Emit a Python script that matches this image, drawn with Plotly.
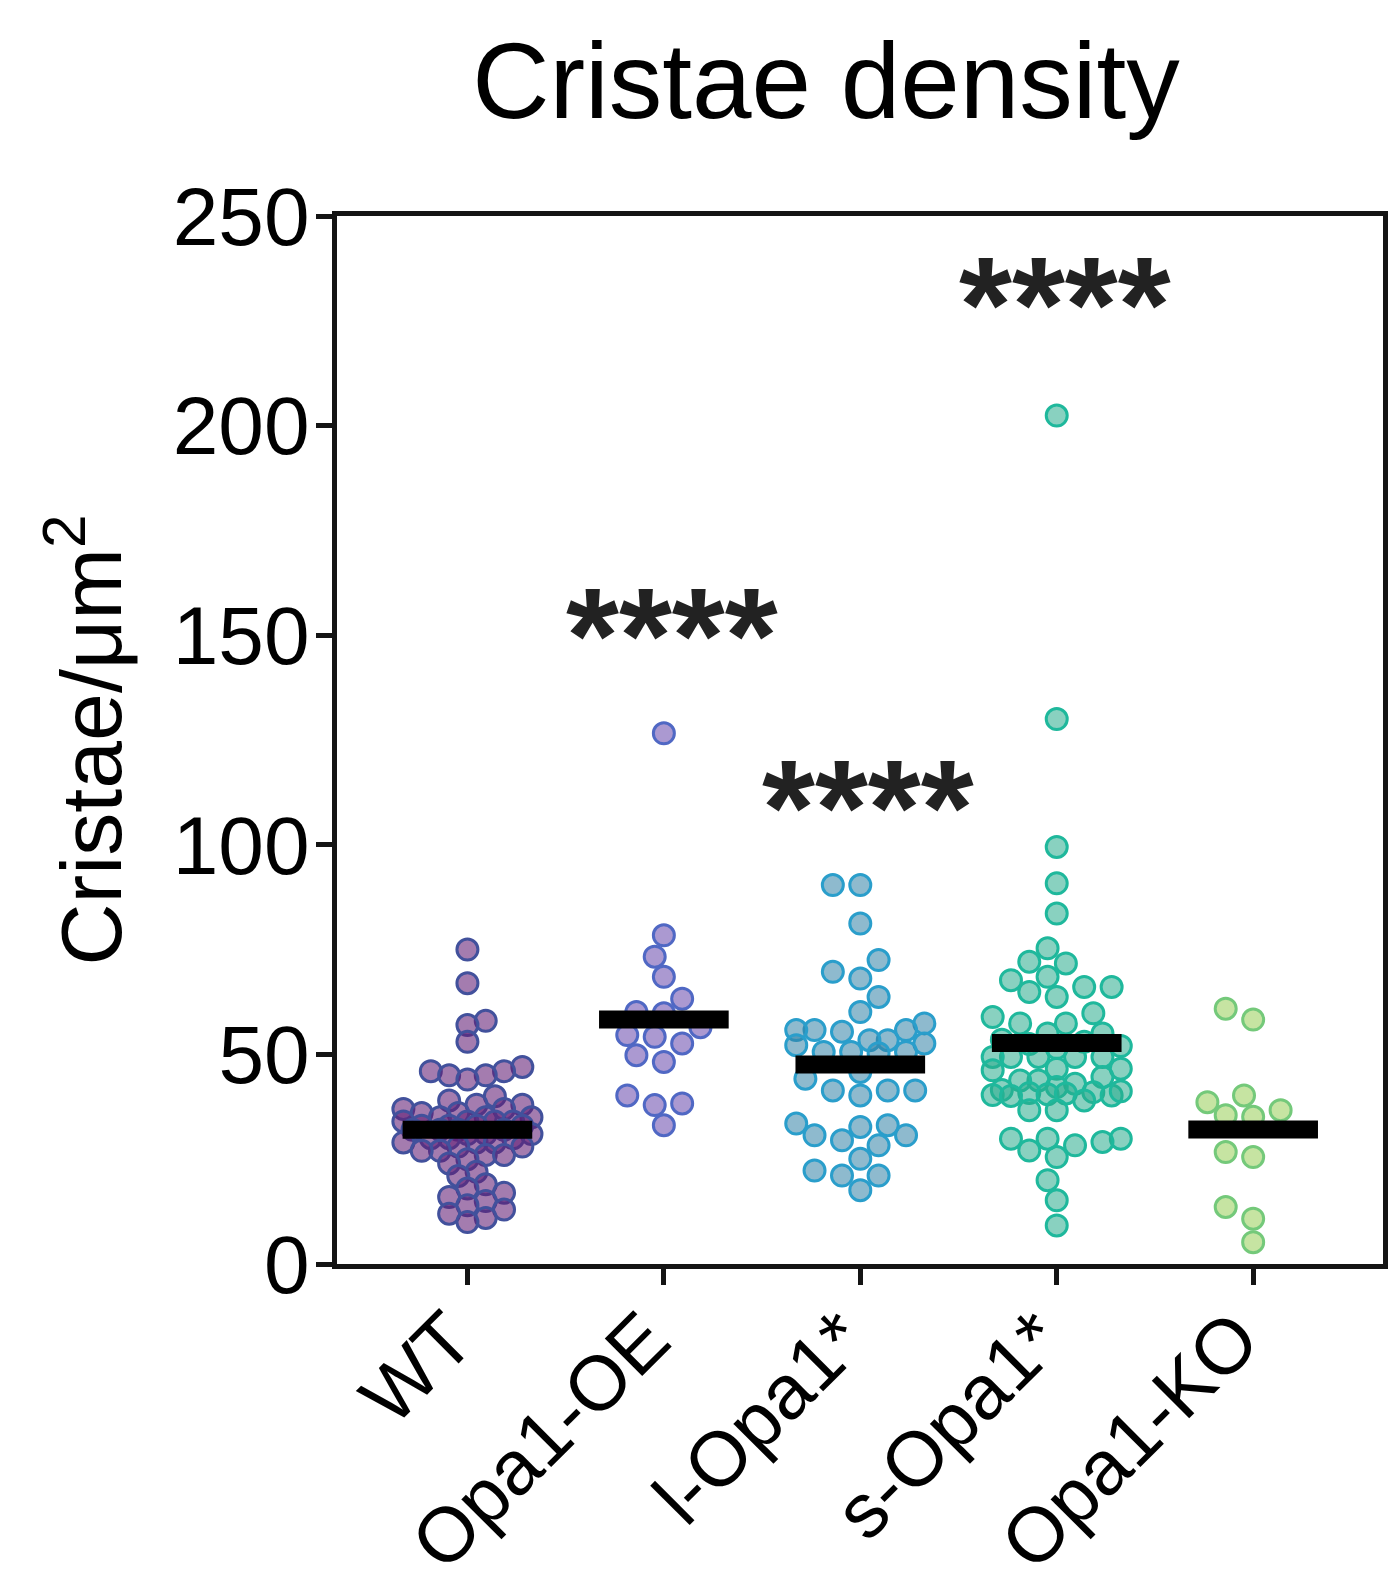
import plotly.graph_objects as go

# ---------------- data ----------------
categories = ["WT", "Opa1-OE", "l-Opa1*", "s-Opa1*", "Opa1-KO"]

wt = [75, 67, 58, 57, 53, 47, 46, 46, 45, 45, 44,
      40, 39, 38, 38, 37, 37, 36, 36, 35, 35, 35, 34, 34, 34, 34, 33, 33, 33, 33,
      32, 32, 32, 32, 31, 31, 31, 30, 30, 30, 29, 29, 29, 28, 28, 27, 27, 26, 26,
      25, 24,
      22, 21, 19, 18, 17, 16, 15, 14, 13, 12, 11, 10]

opa1_oe = [126.6, 78.4, 73.3, 68.5, 63.3, 59.8, 60.1, 56.5, 54.2, 54.6, 52.6,
           49.8, 48.2, 40.2, 38.3, 37.9, 33.1]

l_opa1 = [90.4, 90.4, 81.2, 72.5, 69.7, 68.1, 63.7, 60.1, 57.4, 55.4, 55.8, 55.8,
          55.8, 53.4, 53.4, 52.6, 52.2, 50.6, 50.6, 50.6, 50.3, 45.8, 44.2, 41.4,
          41.4, 41.4, 40.2, 33.1, 32.7, 33.5, 30.7, 30.7, 29.5, 28.3, 25.1, 22.3,
          21.1, 21.1, 17.6]

s_opa1 = [202.4, 130.0, 99.5, 90.8, 83.6, 75.3, 72.1, 71.7, 68.5, 67.7, 66.1, 66.1,
          64.9, 63.7, 59.8, 58.9, 57.4, 57.4, 55.0, 55.0, 53.5, 53.0, 52.5, 52.0,
          51.5, 49.4, 49.4, 49.4, 49.4, 49.4, 46.6, 46.6, 46.2, 44.6, 43.8, 43.8,
          43.0, 42.2, 41.5, 41.0, 40.8, 40.5, 40.3, 40.7, 40.2, 41.2, 40.1, 39.0,
          36.7, 36.7, 29.9, 29.9, 29.9, 29.1, 28.3, 27.1, 25.5, 20.0, 15.2, 9.2]

opa1_ko = [60.9, 58.3, 40.2, 38.6, 36.7, 35.5, 35.1, 26.7, 25.5, 13.6, 10.8, 5.2]

group_means = [32.0, 58.3, 47.6, 52.7, 32.1]
significance = ["", "****", "****", "****", ""]
y_tick_values = [0, 50, 100, 150, 200, 250]

groups = [wt, opa1_oe, l_opa1, s_opa1, opa1_ko]

# ---------------- styling / layout constants ----------------
W, H = 1391, 1585
ML, MR, MT, MB = 337, 8, 216, 321
X_RANGE = [-0.664, 4.661]
Y_RANGE = [0, 250]
FONT = "Liberation Sans, Arial, Helvetica, sans-serif"
AXIS_COLOR = "#141414"
STAR_LEVELS = {1: 150, 2: 109, 3: 229}   # annotation heights (axis units)

fills = ["rgba(98,30,118,0.58)", "rgba(110,80,175,0.58)", "rgba(50,130,165,0.55)",
         "rgba(40,172,140,0.55)", "rgba(160,210,100,0.6)"]
edges = ["#42519c", "#5068c4", "#2a9ecb", "#1fb89c", "#74c97a"]
packing = [15.5, 22.0, 22.0, 21.0, 22.0]   # collision distance (px) per group

MARKER_SIZE = 21
MARKER_LINE = 3

plot_w = W - ML - MR
plot_h = H - MT - MB
px_per_x = plot_w / (X_RANGE[1] - X_RANGE[0])
px_per_y = plot_h / (Y_RANGE[1] - Y_RANGE[0])


def swarm_offsets(values, diam=22.0, step=9.15, max_steps=7):
    """Greedy beeswarm on a grid of half-diameter steps (pixel space)."""
    placed = []
    offs = [0.0] * len(values)
    order = sorted(range(len(values)), key=lambda i: values[i])
    cands = [0]
    for k in range(1, max_steps + 1):
        cands += [-k, k] if k % 2 else [k, -k]
    for i in order:
        y = values[i] * px_per_y
        chosen = None
        for c in cands:
            x = c * step
            if all((x - px) ** 2 + (y - py) ** 2 >= diam ** 2 for px, py in placed):
                chosen = x
                break
        if chosen is None:
            def mind(c):
                x = c * step
                return min((x - px) ** 2 + (y - py) ** 2 for px, py in placed)
            chosen = max(cands, key=mind) * step
        placed.append((chosen, y))
        offs[i] = chosen
    return [o / px_per_x for o in offs]


fig = go.Figure()

for gi, vals in enumerate(groups):
    offs = swarm_offsets(vals, diam=packing[gi])
    fig.add_trace(go.Scatter(
        x=[gi + o for o in offs], y=vals, mode="markers",
        marker=dict(size=MARKER_SIZE, color=fills[gi],
                    line=dict(color=edges[gi], width=MARKER_LINE)),
        showlegend=False, hoverinfo="y", cliponaxis=False))

for gi, m in enumerate(group_means):
    fig.add_trace(go.Scatter(
        x=[gi - 0.33, gi + 0.33], y=[m, m], mode="lines",
        line=dict(color="#000000", width=18), showlegend=False, hoverinfo="y"))

annotations = []
for gi, sig in enumerate(significance):
    if sig:
        annotations.append(dict(
            x=gi, y=STAR_LEVELS[gi], xref="x", yref="y", text=sig, xshift=8,
            showarrow=False, xanchor="center", yanchor="middle",
            font=dict(family=FONT, size=136, color="#222222", weight="bold")))

axis_common = dict(showline=True, linewidth=5, linecolor=AXIS_COLOR, mirror=True,
                   ticks="outside", ticklen=16, tickwidth=5, tickcolor=AXIS_COLOR,
                   showgrid=False, zeroline=False, automargin=False)

fig.update_layout(
    width=W, height=H,
    margin=dict(l=ML, r=MR, t=MT, b=MB, autoexpand=False),
    paper_bgcolor="white", plot_bgcolor="white",
    font=dict(family=FONT, color="#000000"),
    title=dict(text="Cristae density", x=826 / W, xanchor="center",
               yref="container", y=1 - 43 / H, yanchor="top",
               font=dict(family=FONT, size=107, color="#000000")),
    xaxis=dict(range=X_RANGE, tickvals=list(range(len(categories))),
               ticktext=categories, tickangle=-45,
               ticklabelstandoff=-22, ticklabelshift=-17,
               tickfont=dict(family=FONT, size=77, color="#000000"),
               **axis_common),
    yaxis=dict(range=Y_RANGE, tickvals=y_tick_values, ticklabelstandoff=-10,
               tickfont=dict(family=FONT, size=82, color="#000000"),
               title=dict(text="Cristae/μm<sup>2</sup>", standoff=24,
                          font=dict(family=FONT, size=86, color="#000000")),
               **axis_common),
    annotations=annotations,
)

fig.write_html("out.html")
